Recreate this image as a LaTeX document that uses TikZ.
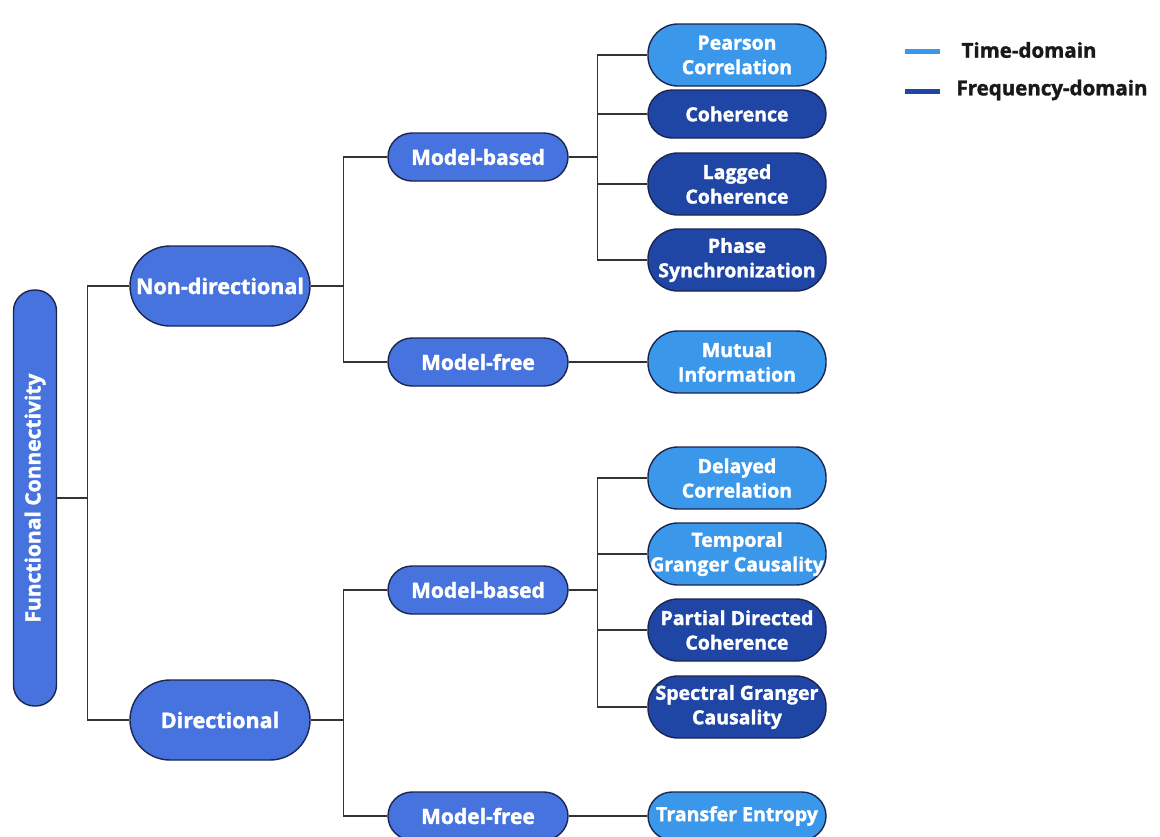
\documentclass[tikz,border=0pt]{standalone}
\usepackage{fontspec}
\setmainfont{Open Sans}[BoldFeatures={FakeBold=1.6}]
\definecolor{fcmid}{HTML}{4673DE}
\definecolor{fclight}{HTML}{3B97E9}
\definecolor{fcdark}{HTML}{1F45A5}
\definecolor{fcedge}{HTML}{1B2550}
\definecolor{fcline}{HTML}{333333}
\begin{document}
\begin{tikzpicture}[x=1pt,y=-1pt,
    box/.style={draw=fcedge,line width=1.4pt,text=white,align=center,inner sep=0pt},
    rootbox/.style={box,fill=fcmid,minimum width=416pt,minimum height=43pt,rounded corners=21pt,font=\fontsize{21}{25}\selectfont\bfseries},
    topbox/.style={box,fill=fcmid,minimum width=180pt,minimum height=80pt,rounded corners=40pt,font=\fontsize{21.5}{26}\selectfont\bfseries},
    midbox/.style={box,fill=fcmid,minimum width=180pt,minimum height=48pt,rounded corners=24pt,font=\fontsize{21}{25}\selectfont\bfseries},
    leaf/.style={box,minimum width=178pt,minimum height=62pt,rounded corners=30pt,font=\fontsize{19.5}{24.5}\selectfont\bfseries},
    shortleaf/.style={leaf,minimum height=48pt,rounded corners=24pt},
    timebox/.style={fill=fclight},
    freqbox/.style={fill=fcdark},
    link/.style={draw=fcline,line width=1.3pt},
    legtext/.style={anchor=west,text=black!90,font=\fontsize{20.5}{24}\selectfont\bfseries}]
    \useasboundingbox (0,0) rectangle (1160,836);

    % root and first level
    \node[rootbox,rotate=90] (fc) at (35,498) {Functional Connectivity};
    \node[topbox] (nondir) at (220,286) {Non-directional};
    \node[topbox] (dir) at (220,720) {Directional};

    % second level
    \node[midbox] (mbnd) at (478,157) {Model-based};
    \node[midbox] (mfnd) at (478,362) {Model-free};
    \node[midbox] (mbd) at (478,590) {Model-based};
    \node[midbox] (mfd) at (478,816) {Model-free};

    % leaves, non-directional
    \node[leaf,timebox] (pearson) at (737,55) {Pearson\\Correlation};
    \node[shortleaf,freqbox] (coh) at (737,114) {Coherence};
    \node[leaf,freqbox] (lagcoh) at (737,184) {Lagged\\Coherence};
    \node[leaf,freqbox] (phase) at (737,260) {Phase\\Synchronization};
    \node[leaf,timebox] (mutual) at (737,362) {Mutual\\Information};

    % leaves, directional
    \node[leaf,timebox] (delcorr) at (737,478) {Delayed\\Correlation};
    \node[leaf,timebox] (tgc) at (737,554) {Temporal\\Granger Causality};
    \node[leaf,freqbox] (pdc) at (737,630) {Partial Directed\\Coherence};
    \node[leaf,freqbox] (sgc) at (737,707) {Spectral Granger\\Causality};
    \node[shortleaf,timebox] (te) at (737,816) {Transfer Entropy};

    % connectors
    \draw[link] (fc.south) -- ++(30,0) |- (nondir.west);
    \draw[link] (fc.south) -- ++(30,0) |- (dir.west);
    \draw[link] (nondir.east) -- ++(33,0) |- (mbnd.west);
    \draw[link] (nondir.east) -- ++(33,0) |- (mfnd.west);
    \draw[link] (dir.east) -- ++(33,0) |- (mbd.west);
    \draw[link] (dir.east) -- ++(33,0) |- (mfd.west);
    \foreach \leafname in {pearson,coh,lagcoh,phase}
        \draw[link] (mbnd.east) -- ++(29,0) |- (\leafname.west);
    \foreach \leafname in {delcorr,tgc,pdc,sgc}
        \draw[link] (mbd.east) -- ++(29,0) |- (\leafname.west);
    \draw[link] (mfnd.east) -- (mutual.west);
    \draw[link] (mfd.east) -- (te.west);

    % legend
    \coordinate (ltime) at (905,51);
    \coordinate (lfreq) at (905,91);
    \draw[fclight,line width=5pt] (ltime) -- ++(35,0);
    \draw[fcdark,line width=5pt] (lfreq) -- ++(35,0);
    \node[legtext] (ttime) at (958,50) {Time-domain};
    \node[legtext] (tfreq) at (953,90) {Frequency-domain};
\end{tikzpicture}
\end{document}
